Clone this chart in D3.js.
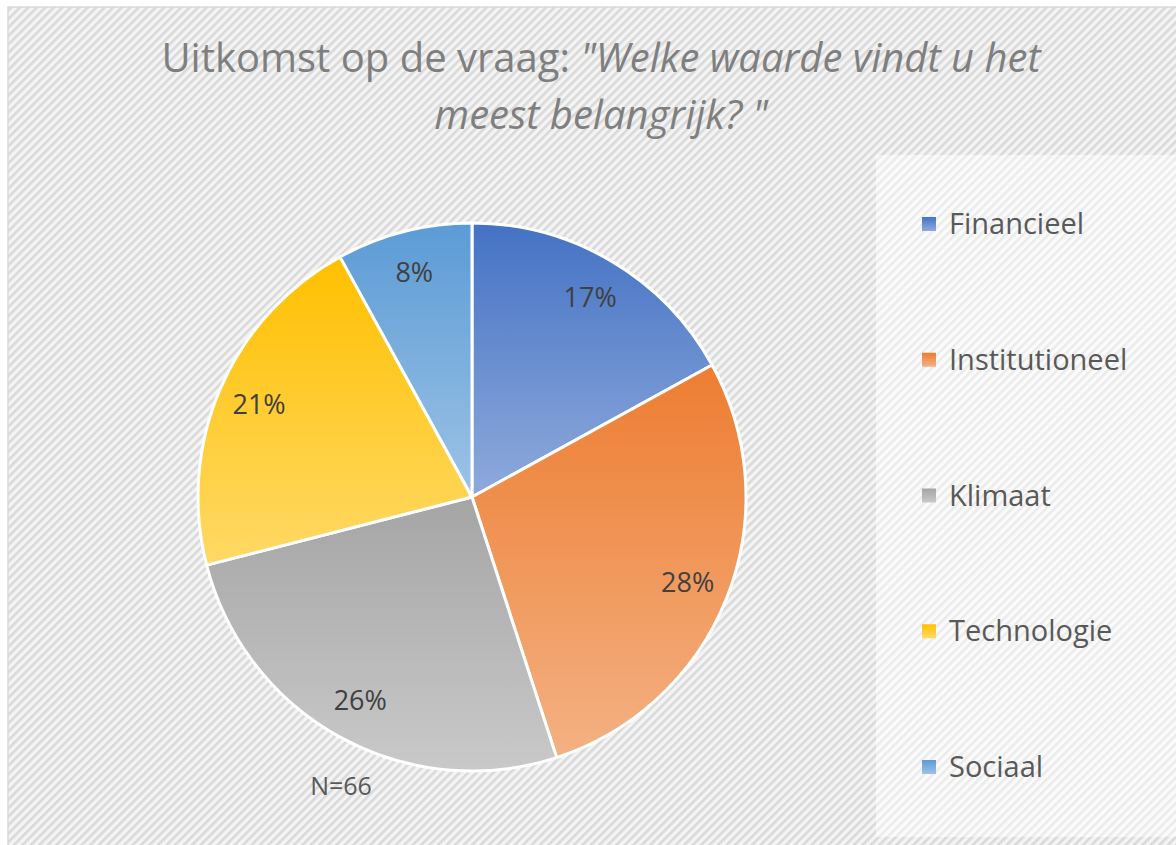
<!DOCTYPE html>
<html lang="nl">
<head>
<meta charset="UTF-8">
<title>Uitkomst op de vraag</title>
<script src="https://d3js.org/d3.v7.min.js"></script>
<style>
  body { margin:0; background:#fff; }
  text { font-family: "Open Sans", "Noto Sans", sans-serif; }
</style>
</head>
<body>
<script>
var categories = ["Financieel", "Institutioneel", "Klimaat", "Technologie", "Sociaal"];
var values = [17, 28, 26, 21, 8];
var labels = ["17%", "28%", "26%", "21%", "8%"];
var topColors = ["#4472C4", "#ED7D31", "#A5A5A5", "#FFC000", "#5B9BD5"];
var bottomColors = ["#8FAADC", "#F4B183", "#C9C9C9", "#FFD966", "#9DC3E6"];
var titleLine1a = "Uitkomst op de vraag: ";
var titleLine1b = "\"Welke waarde vindt u het";
var titleLine2 = "meest belangrijk? \"";
var note = "N=66";

var width = 1176, height = 845;
var svg = d3.select("body").append("svg")
    .attr("width", width).attr("height", height);

var defs = svg.append("defs");

// hatch patterns
var hatch = defs.append("pattern").attr("id", "hatch")
    .attr("patternUnits", "userSpaceOnUse")
    .attr("width", 6).attr("height", 6)
    .attr("patternTransform", "rotate(-45)");
hatch.append("rect").attr("width", 6).attr("height", 6).attr("fill", "#f4f4f4");
hatch.append("rect").attr("width", 6).attr("height", 2.6).attr("fill", "#d9d9d9");

var hatchLight = defs.append("pattern").attr("id", "hatchLight")
    .attr("patternUnits", "userSpaceOnUse")
    .attr("width", 6).attr("height", 6)
    .attr("patternTransform", "rotate(-45)");
hatchLight.append("rect").attr("width", 6).attr("height", 6).attr("fill", "#fbfbfb");
hatchLight.append("rect").attr("width", 6).attr("height", 2.6).attr("fill", "#ebebeb");

categories.forEach(function(c, i) {
  var g = defs.append("linearGradient").attr("id", "grad" + i)
      .attr("x1", 0).attr("y1", 0).attr("x2", 0).attr("y2", 1);
  g.append("stop").attr("offset", "0%").attr("stop-color", topColors[i]);
  g.append("stop").attr("offset", "100%").attr("stop-color", bottomColors[i]);
});

// chart area
svg.append("rect").attr("x", 8).attr("y", 7).attr("width", width).attr("height", height)
    .attr("fill", "url(#hatch)").attr("stroke", "#d9d9d9").attr("stroke-width", 1.5);

// legend box
svg.append("rect").attr("x", 876).attr("y", 155).attr("width", 310).attr("height", 682)
    .attr("fill", "url(#hatchLight)");

// title
var title = svg.append("text").attr("x", 601).attr("y", 72)
    .attr("text-anchor", "middle").attr("font-size", 40).attr("fill", "#7f7f7f");
title.append("tspan").text(titleLine1a);
title.append("tspan").attr("font-style", "italic").text(titleLine1b);
svg.append("text").attr("x", 601).attr("y", 129)
    .attr("text-anchor", "middle").attr("font-size", 40).attr("fill", "#7f7f7f")
    .attr("font-style", "italic").text(titleLine2);

// pie
var cx = 472, cy = 497, r = 274;
var pie = d3.pie().sort(null).value(function(d) { return d; });
var arc = d3.arc().innerRadius(0).outerRadius(r);
var labelArc = d3.arc().innerRadius(232).outerRadius(232);
var arcs = pie(values);

var g = svg.append("g").attr("transform", "translate(" + cx + "," + cy + ")");
g.selectAll("path").data(arcs).enter().append("path")
    .attr("d", arc)
    .attr("fill", function(d, i) { return "url(#grad" + i + ")"; })
    .attr("stroke", "#fff").attr("stroke-width", 3).attr("stroke-linejoin", "round");

g.selectAll("text.lbl").data(arcs).enter().append("text")
    .attr("class", "lbl")
    .attr("transform", function(d) { return "translate(" + labelArc.centroid(d) + ")"; })
    .attr("text-anchor", "middle").attr("dy", "0.35em")
    .attr("font-size", 27).attr("fill", "#404040")
    .text(function(d, i) { return labels[i]; });

// note
svg.append("text").attr("x", 341).attr("y", 795).attr("text-anchor", "middle")
    .attr("font-size", 25).attr("fill", "#595959").text(note);

// legend
var legendY = d3.scalePoint().domain(categories).range([224, 767]);
var leg = svg.selectAll("g.leg").data(categories).enter().append("g")
    .attr("class", "leg")
    .attr("transform", function(d) { return "translate(922," + legendY(d) + ")"; });
leg.append("rect").attr("x", 0).attr("y", -7).attr("width", 14).attr("height", 14)
    .attr("fill", function(d, i) { return "url(#grad" + i + ")"; });
leg.append("text").attr("x", 27).attr("dy", "0.35em")
    .attr("font-size", 29).attr("fill", "#595959")
    .text(function(d) { return d; });
</script>
</body>
</html>
